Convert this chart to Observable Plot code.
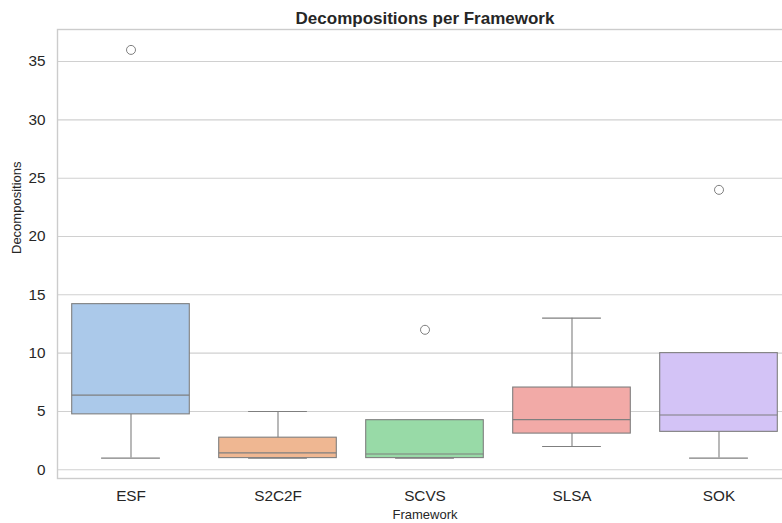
<!DOCTYPE html>
<html>
<head>
<meta charset="utf-8">
<script src="https://cdn.jsdelivr.net/npm/d3@7"></script>
<script src="https://cdn.jsdelivr.net/npm/@observablehq/plot@0.6"></script>
<style>
html, body { margin: 0; padding: 0; overflow: hidden; background: #fff; }
#chart svg { max-width: none !important; display: block; }
</style>
</head>
<body>
<div id="chart"></div>
<script>
const categories = ["ESF", "S2C2F", "SCVS", "SLSA", "SOK"];
const whiskerLow = [1, 1, 1, 2, 1];
const q1 = [4.75, 1, 1, 3.1, 3.25];
const medians = [6.4, 1.45, 1.35, 4.3, 4.7];
const q3 = [14.2, 2.75, 4.25, 7.05, 10];
const whiskerHigh = [14.2, 5, 4.25, 13, 10];
const outlierCategories = ["ESF", "SCVS", "SOK"];
const outlierValues = [36, 12, 24];
const colors = ["#abc9ea", "#efb792", "#98daa7", "#f2aaa7", "#d3c3f6"];
const yTicks = [0, 5, 10, 15, 20, 25, 30, 35];

const boxes = categories.map((c, i) => ({
  name: c, lo: whiskerLow[i], q1: q1[i], med: medians[i], q3: q3[i], hi: whiskerHigh[i], color: colors[i]
}));
const outliers = outlierCategories.map((c, i) => ({ name: c, value: outlierValues[i] }));

const band = (792 - 57) / categories.length;
const edge = "#7f7f7f";
const font = "'Liberation Sans', Arial, sans-serif";

const chart = Plot.plot({
  width: 792,
  height: 523,
  marginLeft: 57,
  marginRight: 0,
  marginTop: 29,
  marginBottom: 45,
  style: { fontFamily: font, background: "#fff", color: "#262626", overflow: "visible" },
  x: { type: "band", domain: categories, padding: 0 },
  y: { domain: [-0.75, 37.75] },
  marks: [
    Plot.ruleY(yTicks, { stroke: "#d0d0d0", strokeWidth: 1.1 }),
    Plot.ruleX(boxes, { x: "name", y1: "lo", y2: "q1", stroke: edge, strokeWidth: 1.1 }),
    Plot.ruleX(boxes, { x: "name", y1: "q3", y2: "hi", stroke: edge, strokeWidth: 1.1 }),
    Plot.tickY(boxes, { x: "name", y: "lo", stroke: edge, strokeWidth: 1.1, insetLeft: band * 0.3, insetRight: band * 0.3 }),
    Plot.tickY(boxes, { x: "name", y: "hi", stroke: edge, strokeWidth: 1.1, insetLeft: band * 0.3, insetRight: band * 0.3 }),
    Plot.rectY(boxes, { x: "name", y1: "q1", y2: "q3", fill: "color", stroke: edge, strokeWidth: 1.1, insetLeft: band * 0.1, insetRight: band * 0.1 }),
    Plot.tickY(boxes, { x: "name", y: "med", stroke: edge, strokeWidth: 1.1, insetLeft: band * 0.1, insetRight: band * 0.1 }),
    Plot.dot(outliers, { x: "name", y: "value", r: 4.5, fill: "#fff", stroke: edge, strokeWidth: 1 }),
    Plot.frame({ stroke: "#cccccc", strokeWidth: 1.4 }),
    Plot.axisY({ ticks: yTicks, tickSize: 0, tickPadding: 12, fontSize: 15.3, label: null }),
    Plot.axisX({ tickSize: 0, tickPadding: 12, fontSize: 15.3, label: null }),
    Plot.text(["Decompositions per Framework"], { frameAnchor: "top", dy: -6, fontSize: 17, fontWeight: "bold", lineAnchor: "bottom", fill: "#262626" }),
    Plot.text(["Framework"], { frameAnchor: "bottom", dy: 40, fontSize: 13, lineAnchor: "bottom", fill: "#262626" }),
    Plot.text(["Decompositions"], { frameAnchor: "left", dx: -41, rotate: -90, fontSize: 13, fill: "#262626" })
  ]
});
document.getElementById("chart").appendChild(chart);
</script>
</body>
</html>
